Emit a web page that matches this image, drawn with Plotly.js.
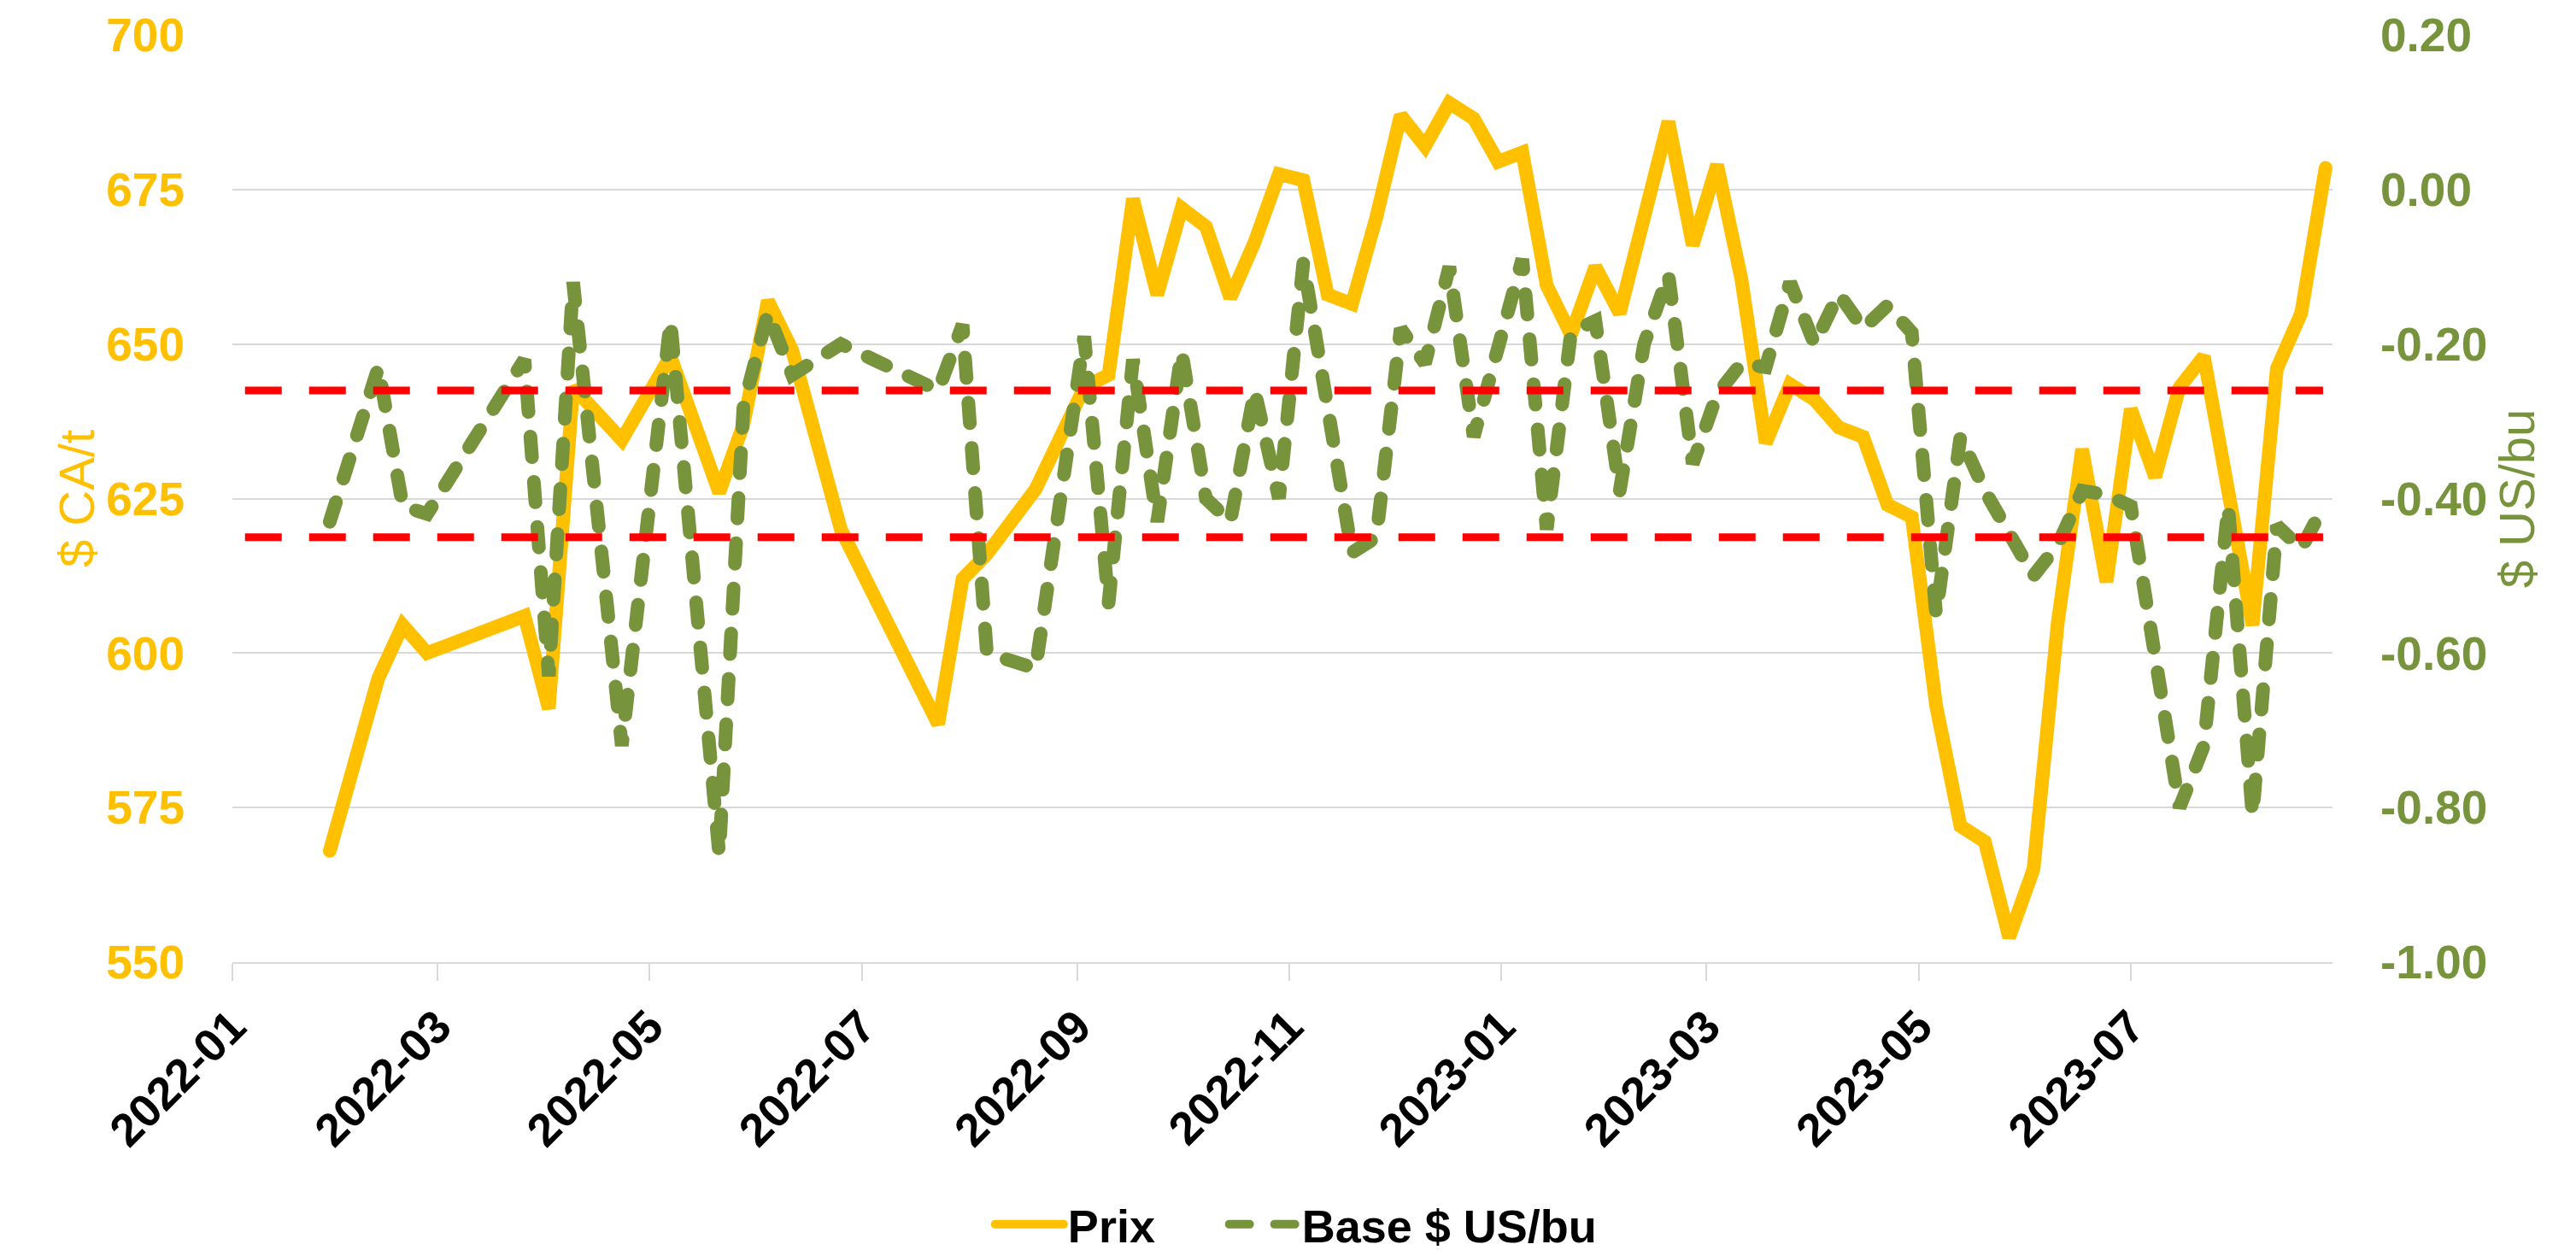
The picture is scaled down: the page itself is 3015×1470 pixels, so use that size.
<!DOCTYPE html>
<html>
<head>
<meta charset="utf-8">
<script src="https://cdn.plot.ly/plotly-3.0.1.min.js"></script>
<style>
  html, body { margin: 0; padding: 0; background: #fff; }
  #chart { width: 3015px; height: 1470px; }
  /* Excel-like rounded dash ends on the data lines */
  #chart .scatterlayer path.js-line,
  #chart .legendlines path.js-line { stroke-linecap: round; }
</style>
</head>
<body>
<div id="chart"></div>
<script>
// Prix ($ CA/t), weekly
var prixDates = ['2022-01-29', '2022-02-12', '2022-02-19', '2022-02-26', '2022-03-26', '2022-04-02', '2022-04-09',
    '2022-04-23', '2022-05-07', '2022-05-21', '2022-05-28', '2022-06-04', '2022-06-11', '2022-06-25',
    '2022-07-23', '2022-07-30', '2022-08-06', '2022-08-20', '2022-09-03', '2022-09-10', '2022-09-17',
    '2022-09-24', '2022-10-01', '2022-10-08', '2022-10-15', '2022-10-22', '2022-10-29', '2022-11-05',
    '2022-11-12', '2022-11-19', '2022-11-26', '2022-12-03', '2022-12-10', '2022-12-17', '2022-12-24',
    '2022-12-31', '2023-01-07', '2023-01-14', '2023-01-21', '2023-01-28', '2023-02-04', '2023-02-11',
    '2023-02-18', '2023-02-25', '2023-03-04', '2023-03-11', '2023-03-18', '2023-03-25', '2023-04-01',
    '2023-04-08', '2023-04-15', '2023-04-22', '2023-04-29', '2023-05-06', '2023-05-13', '2023-05-20',
    '2023-05-27', '2023-06-03', '2023-06-10', '2023-06-17', '2023-06-24', '2023-07-01', '2023-07-08',
    '2023-07-15', '2023-07-22', '2023-08-05', '2023-08-12', '2023-08-19', '2023-08-26'];
var prixValues = [568, 596, 604.5, 600, 606, 591, 643,
    634.5, 648, 626, 637, 657, 649, 620,
    588.5, 612, 616, 626.5, 643, 645, 673.5,
    658, 672, 669, 657.5, 666.5, 677.5, 676.5,
    658, 656.5, 670.5, 687, 682, 689, 686.5,
    679.5, 681, 659.5, 651.5, 662.5, 655, 671.5,
    686, 666, 679, 660.5, 634, 643.5, 641,
    636.5, 635, 624, 622, 591.5, 572, 569.5,
    554, 565, 605, 633, 611.5, 639.5, 628.5,
    643, 648, 604.5, 646, 655, 678.5];

// Base ($ US/bu)
var baseDates = ['2022-01-29', '2022-02-12', '2022-02-19', '2022-02-26', '2022-03-26', '2022-04-02', '2022-04-09',
    '2022-04-23', '2022-05-07', '2022-05-21', '2022-05-28', '2022-06-04', '2022-06-11', '2022-06-25',
    '2022-07-23', '2022-07-30', '2022-08-06', '2022-08-13', '2022-08-20', '2022-09-03', '2022-09-10',
    '2022-09-17', '2022-09-24', '2022-10-01', '2022-10-08', '2022-10-15', '2022-10-22', '2022-10-29',
    '2022-11-05', '2022-11-19', '2022-11-26', '2022-12-03', '2022-12-10', '2022-12-17', '2022-12-24',
    '2023-01-07', '2023-01-14', '2023-01-21', '2023-01-28', '2023-02-04', '2023-02-11', '2023-02-18',
    '2023-02-25', '2023-03-04', '2023-03-11', '2023-03-18', '2023-03-25', '2023-04-01', '2023-04-08',
    '2023-04-15', '2023-04-22', '2023-04-29', '2023-05-06', '2023-05-13', '2023-05-20', '2023-05-27',
    '2023-06-03', '2023-06-10', '2023-06-17', '2023-06-24', '2023-07-01', '2023-07-15', '2023-07-22',
    '2023-07-29', '2023-08-05', '2023-08-12', '2023-08-19', '2023-08-26'];
var baseValues = [-0.43, -0.23, -0.41, -0.42, -0.22, -0.63, -0.12,
    -0.72, -0.17, -0.86, -0.28, -0.16, -0.24, -0.20,
    -0.26, -0.175, -0.60, -0.61, -0.62, -0.19, -0.535,
    -0.22, -0.43, -0.21, -0.40, -0.43, -0.26, -0.40,
    -0.095, -0.47, -0.45, -0.18, -0.225, -0.10, -0.32,
    -0.09, -0.44, -0.185, -0.17, -0.39, -0.20, -0.11,
    -0.355, -0.265, -0.225, -0.23, -0.12, -0.20, -0.135,
    -0.18, -0.15, -0.185, -0.55, -0.32, -0.39, -0.445,
    -0.50, -0.46, -0.39, -0.395, -0.41, -0.80, -0.72,
    -0.41, -0.81, -0.435, -0.465, -0.405];

// reference band on the base axis
var bandLevels = [-0.26, -0.45];

// axis ticks
var xTickDates = ['2022-01-01', '2022-03-01', '2022-05-01', '2022-07-01', '2022-09-01', '2022-11-01',
    '2023-01-01', '2023-03-01', '2023-05-01', '2023-07-01'];
var leftTicks = [550, 575, 600, 625, 650, 675, 700];
var rightTicks = [-1.0, -0.8, -0.6, -0.4, -0.2, 0.0, 0.2];
var rightTickText = ['-1.00', '-0.80', '-0.60', '-0.40', '-0.20', '0.00', '0.20'];

var YELLOW = '#FFC000';
var GREEN = '#77933C';
var FONT = 'Liberation Sans, Arial, sans-serif';

var trace1 = {
    x: prixDates,
    y: prixValues,
    type: 'scatter',
    mode: 'lines',
    name: 'Prix',
    legend: 'legend',
    line: { color: YELLOW, width: 16 }
};

var trace2 = {
    x: baseDates,
    y: baseValues,
    type: 'scatter',
    mode: 'lines',
    name: 'Base $ US/bu',
    yaxis: 'y2',
    legend: 'legend2',
    line: { color: GREEN, width: 16, dash: '24px,29px' }
};

var shapes = bandLevels.map(function (v) {
    return {
        type: 'line', xref: 'paper', yref: 'y2',
        x0: 0.006, x1: 0.9955, y0: v, y1: v,
        layer: 'above',
        line: { color: '#FF0000', width: 9, dash: '43px,32px' }
    };
});

var legendFont = { size: 54, color: '#000', weight: 'bold' };

var layout = {
    width: 3015,
    height: 1470,
    margin: { l: 272, r: 285, t: 41, b: 344 },
    paper_bgcolor: '#fff',
    plot_bgcolor: '#fff',
    font: { family: FONT },
    showlegend: true,
    legend: {
        orientation: 'h', xref: 'container', x: 0.3847, xanchor: 'left',
        yref: 'container', y: 0.025, yanchor: 'middle',
        font: legendFont, itemwidth: 80
    },
    legend2: {
        orientation: 'h', xref: 'container', x: 0.4755, xanchor: 'left',
        yref: 'container', y: 0.025, yanchor: 'middle',
        font: legendFont, itemwidth: 80
    },
    xaxis: {
        type: 'date',
        range: ['2022-01-01', '2023-08-28'],
        tickvals: xTickDates,
        tickformat: '%Y-%m',
        tickangle: -45,
        tickfont: { size: 54, color: '#000', weight: 'bold' },
        showgrid: false,
        zeroline: false,
        showline: true, linecolor: '#D9D9D9', linewidth: 2,
        ticks: 'outside', ticklen: 20, tickcolor: '#D9D9D9', tickwidth: 2
    },
    yaxis: {
        range: [550, 700],
        tickvals: leftTicks,
        tickfont: { size: 55, color: YELLOW, weight: 'bold' },
        gridcolor: '#D9D9D9', gridwidth: 2,
        zeroline: false, showline: false,
        ticks: '', ticklabelstandoff: 55,
        title: { text: '$ CA/t', font: { size: 58, color: YELLOW } }
    },
    yaxis2: {
        overlaying: 'y', side: 'right',
        range: [-1.0, 0.2],
        tickvals: rightTicks, ticktext: rightTickText,
        tickfont: { size: 55, color: GREEN, weight: 'bold' },
        showgrid: false, zeroline: false, showline: false,
        ticks: '', ticklabelstandoff: 55,
        title: { text: '$ US/bu', font: { size: 58, color: GREEN } }
    },
    shapes: shapes
};

var config = { displayModeBar: false, responsive: false };
Plotly.newPlot('chart', [trace1, trace2], layout, config);
</script>
</body>
</html>
